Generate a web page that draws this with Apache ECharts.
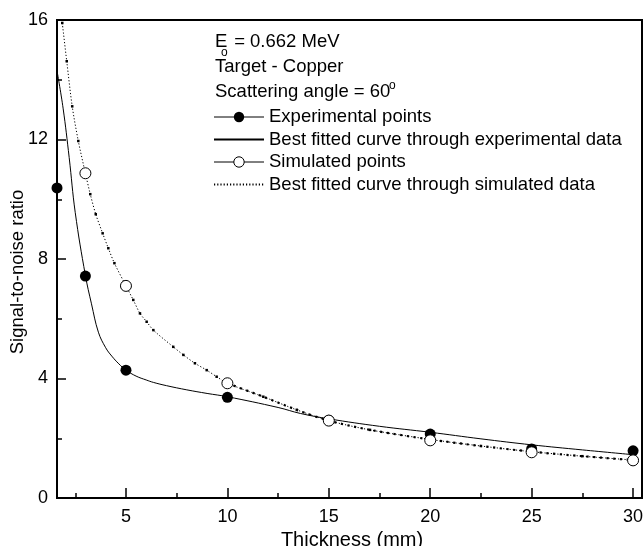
<!DOCTYPE html>
<html><head><meta charset="utf-8">
<script src="https://cdn.jsdelivr.net/npm/echarts@6/dist/echarts.min.js"></script>
<style>html,body{margin:0;padding:0;background:#fff}#c{width:644px;height:546px}</style>
</head><body><div id="c"></div>
<script>
// ---- data ----
const xMajorTicks = [5, 10, 15, 20, 25, 30];
const xMinorTicks = [2.5, 7.5, 12.5, 17.5, 22.5, 27.5];
const yTicks = [0, 4, 8, 12, 16];

const seriesNames = ['Experimental points', 'Best fitted curve through experimental data',
                     'Simulated points', 'Best fitted curve through simulated data'];

const expPoints = [[1.6, 10.38], [3, 7.43], [5, 4.28], [10, 3.37], [15, 2.60], [20, 2.14], [25, 1.64], [30, 1.58]];
const simPoints = [[3, 10.87], [5, 7.10], [10, 3.84], [15, 2.59], [20, 1.93], [25, 1.53], [30, 1.26]];

const expFit = [[1.6, 14.3], [1.9, 13.05], [2.2, 11.4], [2.5, 9.55], [3, 7.45], [3.3, 6.5], [3.64, 5.55],
                [4.0, 5.03], [4.3, 4.75], [4.65, 4.49], [5, 4.28], [5.5, 4.08], [6, 3.95], [6.35, 3.87],
                [7, 3.76], [8, 3.62], [9, 3.50], [10, 3.39], [12.5, 3.03], [13.6, 2.83], [15, 2.65],
                [17.5, 2.40], [20, 2.20], [22.5, 1.98], [25, 1.78], [27.5, 1.61], [30, 1.45]];
const simFit = [[1.86, 15.9], [2.08, 14.62], [2.35, 13.11], [2.65, 11.95], [3.0, 10.87], [3.24, 10.17],
                [3.51, 9.5], [3.85, 8.86], [4.13, 8.36], [4.43, 7.86], [5.0, 7.10], [5.36, 6.63], [5.69, 6.18],
                [6.02, 5.90], [6.35, 5.62], [7.33, 5.06], [7.83, 4.79], [8.40, 4.51], [8.98, 4.28], [9.47, 4.06],
                [10, 3.84], [11.77, 3.39], [13.42, 2.95], [15, 2.59], [17.03, 2.28], [20, 1.96], [22.5, 1.74],
                [25, 1.55], [27.5, 1.40], [30, 1.27]];

const xRange = [1.6, 30.44];
const yRange = [0, 16];

// ---- chart ----
const FONT = '"Liberation Sans", Arial, Helvetica, sans-serif';
const FS = 18.5;
const chart = echarts.init(document.getElementById('c'), null, {renderer: 'canvas'});
const black = '#000';
const tickLS = {color: black, width: 1.5};

const option = {
  animation: false,
  backgroundColor: '#fff',
  textStyle: {fontFamily: FONT, color: black},
  grid: {left: 57, right: 2, top: 20, bottom: 48, show: true, borderColor: black, borderWidth: 2,
         backgroundColor: 'transparent', containLabel: false, outerBoundsMode: 'none'},
  xAxis: [{
    type: 'value', min: xRange[0], max: xRange[1], position: 'bottom',
    axisLine: {onZero: false, lineStyle: {color: black, width: 2}},
    axisTick: {show: true, inside: true, length: 10, customValues: xMajorTicks, lineStyle: tickLS},
    axisLabel: {customValues: xMajorTicks, fontSize: 18, color: black, margin: 10, fontFamily: FONT},
    splitLine: {show: false},
    name: 'Thickness (mm)', nameLocation: 'middle', nameGap: 28,
    nameTextStyle: {fontSize: 20, color: black, fontFamily: FONT, padding: [0, 0, 0, 5]}
  }, {
    type: 'value', min: xRange[0], max: xRange[1], position: 'bottom', offset: 0,
    axisLine: {show: false, onZero: false},
    axisTick: {show: true, inside: true, length: 5, customValues: xMinorTicks, lineStyle: tickLS},
    axisLabel: {show: false},
    splitLine: {show: false}
  }],
  yAxis: {
    type: 'value', min: yRange[0], max: yRange[1], interval: 4,
    axisLine: {show: true, onZero: false, lineStyle: {color: black, width: 2}},
    axisTick: {show: true, inside: true, length: 9, lineStyle: tickLS},
    minorTick: {show: true, splitNumber: 2, length: 5, lineStyle: tickLS},
    axisLabel: {fontSize: 18, color: black, margin: 9, fontFamily: FONT},
    splitLine: {show: false}
  },
  legend: {
    orient: 'vertical', left: 213, top: 107.5, padding: 0,
    itemWidth: 50, itemHeight: 13, itemGap: 3.5, selectedMode: false,
    textStyle: {fontSize: FS, color: black, fontFamily: FONT},
    data: [
      {name: seriesNames[0], lineStyle: {width: 1, opacity: 1, color: black, type: 'solid'}},
      {name: seriesNames[1], itemStyle: {opacity: 0}},
      {name: seriesNames[2], lineStyle: {width: 1, opacity: 1, color: black, type: 'solid'},
       itemStyle: {color: '#fff', borderColor: black, borderWidth: 1}},
      {name: seriesNames[3], itemStyle: {opacity: 0}}
    ]
  },
  graphic: [
    {type: 'text', x: 215, y: 41.5, style: {text: 'E', font: FS + 'px ' + FONT, fill: black, verticalAlign: 'middle'}},
    {type: 'text', x: 221, y: 52.5, style: {text: 'o', font: '12px ' + FONT, fill: black, verticalAlign: 'middle'}},
    {type: 'text', x: 229, y: 41.5, style: {text: ' = 0.662 MeV', font: FS + 'px ' + FONT, fill: black, verticalAlign: 'middle'}},
    {type: 'text', x: 215, y: 66.5, style: {text: 'Target - Copper', font: FS + 'px ' + FONT, fill: black, verticalAlign: 'middle'}},
    {type: 'text', x: 215, y: 91.5, style: {text: 'Scattering angle = 60', font: FS + 'px ' + FONT, fill: black, verticalAlign: 'middle'}},
    {type: 'text', x: 389, y: 86, style: {text: 'o', font: '12px ' + FONT, fill: black, verticalAlign: 'middle'}},
    {type: 'text', x: 18, y: 272, rotation: Math.PI / 2,
     style: {text: 'Signal-to-noise ratio', font: '18.5px ' + FONT, fill: black, align: 'center', verticalAlign: 'middle'}}
  ],
  series: [
    {
      name: seriesNames[1], type: 'line', data: expFit, smooth: 0.4,
      symbol: 'circle', symbolSize: 1, showSymbol: false, clip: true,
      lineStyle: {color: black, width: 1}, itemStyle: {color: black}, z: 2
    },
    {
      name: seriesNames[3], type: 'line', data: simFit, smooth: 0.3,
      symbol: 'rect', symbolSize: 2.5, showSymbol: true, showAllSymbol: true, clip: true,
      lineStyle: {color: black, width: 1, type: [1.2, 2]}, itemStyle: {color: black}, z: 2
    },
    {
      name: seriesNames[3] + ' markers', type: 'line', data: simFit.filter(p => p[0] >= 10),
      smooth: 0.3, symbol: 'none', clip: true,
      lineStyle: {color: black, width: 2.2, type: [2.2, 4.5]}, z: 2
    },
    {
      name: seriesNames[0], type: 'line', data: expPoints, symbol: 'circle', symbolSize: 11,
      showAllSymbol: true, clip: false,
      lineStyle: {opacity: 0, width: 1, color: black}, itemStyle: {color: black}, z: 3
    },
    {
      name: seriesNames[2], type: 'line', data: simPoints, symbol: 'circle', symbolSize: 11,
      showAllSymbol: true, clip: false,
      lineStyle: {opacity: 0, width: 1, color: black},
      itemStyle: {color: '#fff', borderColor: black, borderWidth: 1}, z: 4
    }
  ]
};
chart.setOption(option);
</script>
</body></html>
